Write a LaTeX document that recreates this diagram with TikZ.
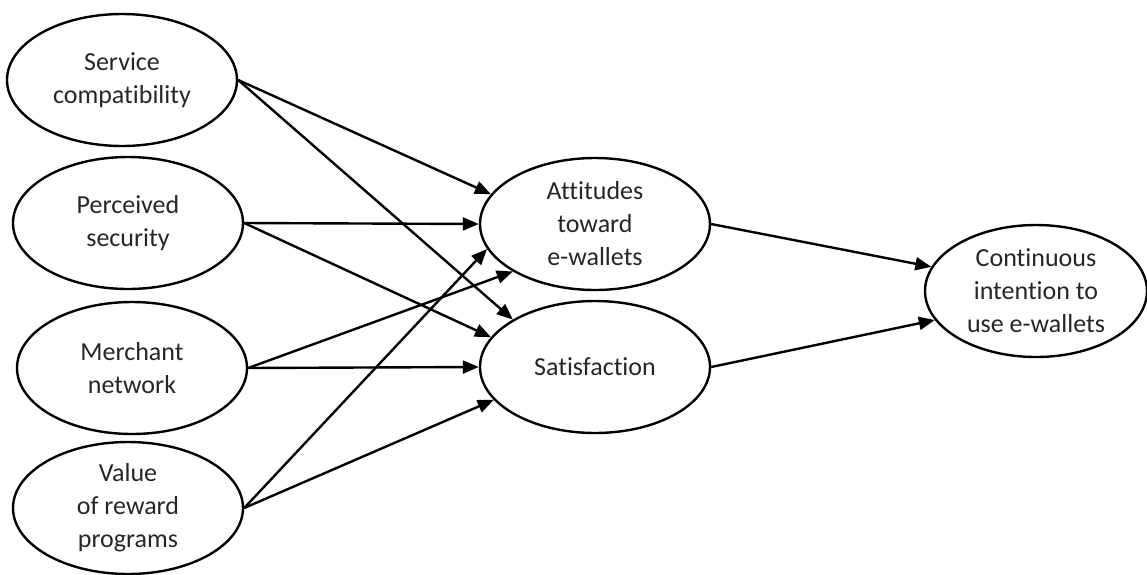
\documentclass[tikz,border=0pt]{standalone}
\usepackage{fontspec}
\setmainfont{Carlito}[Ligatures=NoCommon]
\usetikzlibrary{shapes.geometric,arrows.meta}

\tikzset{
  construct/.style={draw, ellipse, line width=1.2pt, minimum width=115pt,
    minimum height=66pt, inner sep=0pt, align=center, text=black!85,
    font=\fontsize{13}{16.5}\selectfont},
  path/.style={line width=1.2pt, -{Triangle[length=8pt,width=6.5pt]}}
}

\begin{document}
\begin{tikzpicture}[x=0.5pt,y=-0.5pt]
\useasboundingbox (0,0) rectangle (1147,574);

% exogenous constructs
\node[construct] (svc) at (122,80) {Service\\compatibility};
\node[construct] (sec) at (128,223) {Perceived\\security};
\node[construct] (mer) at (132,368) {Merchant\\network};
\node[construct] (rew) at (128,508) {Value\\of reward\\programs};

% mediators and outcome
\node[construct] (att) at (595,224) {Attitudes\\toward\\e-wallets};
\node[construct] (sat) at (595,367) {Satisfaction};
\node[construct, minimum width=111pt] (cont) at (1036,291) {Continuous\\intention to\\use e-wallets};

\draw[path] (svc.east) -- (att.164);
\draw[path] (svc.east) -- (sat.150);
\draw[path] (sec.east) -- (att.west);
\draw[path] (sec.east) -- (sat.164);
\draw[path] (mer.east) -- (att.210);
\draw[path] (mer.east) -- (sat.west);
\draw[path] (rew.east) -- (att.193);
\draw[path] (rew.east) -- (sat.198);

\draw[path] (att.east) -- (cont.167);
\draw[path] (sat.east) -- (cont.196);

\end{tikzpicture}
\end{document}
